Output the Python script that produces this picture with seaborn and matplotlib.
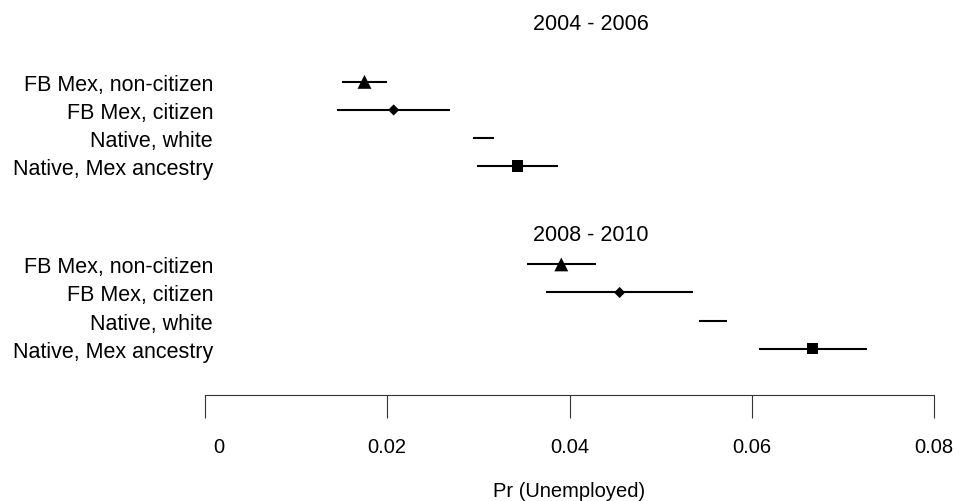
import numpy as np
import pandas as pd
import matplotlib
matplotlib.use("Agg")
import matplotlib.pyplot as plt
import matplotlib.transforms as mtransforms
import seaborn as sns

# Predicted probability of unemployment with 95% intervals, by group and period
categories = ["FB Mex, non-citizen", "FB Mex, citizen", "Native, white", "Native, Mex ancestry"]
periods = ["2004 - 2006", "2008 - 2010"]

est_2004 = [0.0175, 0.0207, 0.0305, 0.0343]
lo_2004 = [0.0150, 0.0145, 0.0294, 0.0299]
hi_2004 = [0.0200, 0.0269, 0.0317, 0.0387]

est_2008 = [0.0391, 0.0455, 0.0558, 0.0667]
lo_2008 = [0.0353, 0.0374, 0.0542, 0.0608]
hi_2008 = [0.0429, 0.0535, 0.0573, 0.0727]

xticks = [0, 0.02, 0.04, 0.06, 0.08]
xtick_labels = ["0", "0.02", "0.04", "0.06", "0.08"]
x_label = "Pr (Unemployed)"

# vertical layout: four rows per period block, a gap between blocks
block_start = [0.0, 6.5]
title_rows = [-2.06, 5.44]

records = []
for p, (est, lo, hi) in enumerate([(est_2004, lo_2004, hi_2004), (est_2008, lo_2008, hi_2008)]):
    for i, cat in enumerate(categories):
        records.append(dict(period=periods[p], category=cat, est=est[i], lo=lo[i], hi=hi[i],
                            row=block_start[p] + i))
df = pd.DataFrame(records)

sns.set_style("white")
plt.rcParams["font.family"] = ["Liberation Sans", "DejaVu Sans"]
for key in ["text.color", "xtick.color", "ytick.color", "axes.labelcolor"]:
    plt.rcParams[key] = "black"
narrow = ["Liberation Sans Narrow", "Liberation Sans", "DejaVu Sans"]

fig = plt.figure(figsize=(9.61, 5.02), dpi=100)
ax = fig.add_axes([205 / 961, 106 / 502, (934 - 205) / 961, 396 / 502])

# interval lines
ax.hlines(df["row"], df["lo"], df["hi"], color="black", linewidth=1.5)

# point estimates (white natives are shown by the interval only)
marker_map = {"FB Mex, non-citizen": "^", "FB Mex, citizen": "D", "Native, Mex ancestry": "s"}
size_map = {"FB Mex, non-citizen": 100, "FB Mex, citizen": 32, "Native, Mex ancestry": 66}
pts = df[df["category"].isin(marker_map.keys())]
sns.scatterplot(data=pts, x="est", y="row", style="category", markers=marker_map,
                size="category", sizes=size_map, color="black", linewidth=0,
                legend=False, ax=ax, zorder=3)

for r, title in zip(title_rows, periods):
    ax.text(0.0423, r, title, ha="center", va="center", fontsize=15.5, color="black")

ax.set_xlim(0, 0.08)
ax.set_ylim(11.15, -2.95)

ax.set_yticks(df["row"])
ax.set_yticklabels(df["category"], fontsize=15.5)
ax.tick_params(axis="y", left=False, length=0, pad=-5.8)

ax.set_xticks(xticks)
ax.set_xticklabels(xtick_labels, fontsize=14.5, fontfamily=narrow)
ax.tick_params(axis="x", bottom=True, direction="out", length=16.5, width=0.8,
               color="#333333", pad=14)
first = ax.get_xticklabels()[0]
first.set_transform(first.get_transform() + mtransforms.ScaledTranslation(0.14, 0, fig.dpi_scale_trans))

ax.set_xlabel(x_label, fontsize=14.5, fontfamily=narrow, labelpad=18)
ax.set_ylabel("")

for side in ["top", "left", "right"]:
    ax.spines[side].set_visible(False)
ax.spines["bottom"].set_bounds(0, 0.08)
ax.spines["bottom"].set_color("#333333")
ax.spines["bottom"].set_linewidth(0.8)

fig.savefig("out.png", dpi=100, facecolor="white")
